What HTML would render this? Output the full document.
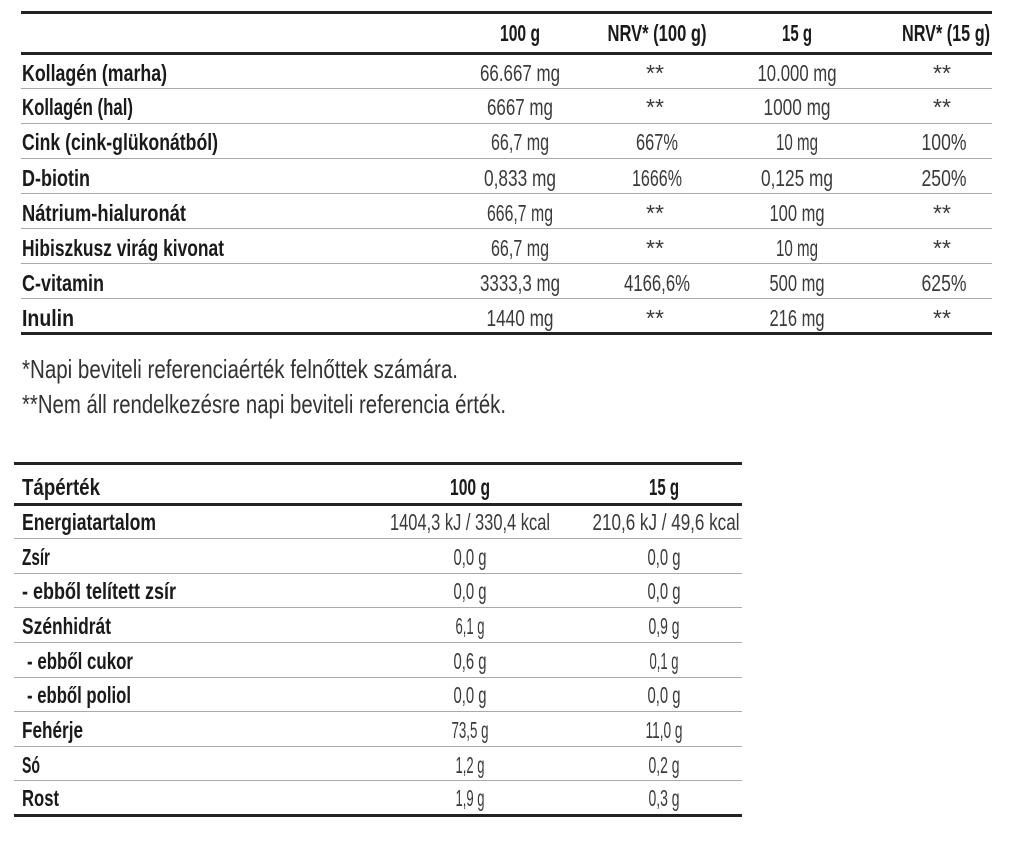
<!DOCTYPE html>
<html><head><meta charset="utf-8"><style>
html,body{margin:0;padding:0;background:#fff;width:1024px;height:844px;overflow:hidden}
svg text{font-family:"Liberation Sans Narrow","Liberation Sans",sans-serif;}
.b{font-weight:bold;fill:#1a1a1a;font-size:23px}
.l{fill:#3a3a3a;font-size:23px}
.f{fill:#333;font-size:26px}
</style></head><body>
<svg width="1024" height="844" viewBox="0 0 1024 844" xmlns="http://www.w3.org/2000/svg">
<rect x="21" y="11" width="971" height="3" fill="#222"/>
<rect x="21" y="52" width="971" height="3" fill="#222"/>
<g fill="#aaa">
<rect x="21" y="88" width="971" height="1"/>
<rect x="21" y="123" width="971" height="1"/>
<rect x="21" y="158" width="971" height="1"/>
<rect x="21" y="193" width="971" height="1"/>
<rect x="21" y="228" width="971" height="1"/>
<rect x="21" y="263" width="971" height="1"/>
<rect x="21" y="298" width="971" height="1"/>
</g>
<rect x="21" y="332" width="971" height="3" fill="#222"/>
<g class="b" text-anchor="middle">
<text x="520" y="41" textLength="40" lengthAdjust="spacingAndGlyphs">100 g</text>
<text x="657" y="41" textLength="99" lengthAdjust="spacingAndGlyphs">NRV* (100 g)</text>
<text x="797" y="41" textLength="30" lengthAdjust="spacingAndGlyphs">15 g</text>
<text x="946" y="41" textLength="88" lengthAdjust="spacingAndGlyphs">NRV* (15 g)</text>
</g>
<g class="b">
<text x="22" y="81" textLength="145" lengthAdjust="spacingAndGlyphs">Kollagén (marha)</text>
<text x="22" y="115" textLength="111" lengthAdjust="spacingAndGlyphs">Kollagén (hal)</text>
<text x="22" y="150" textLength="196" lengthAdjust="spacingAndGlyphs">Cink (cink-glükonátból)</text>
<text x="22" y="186" textLength="68" lengthAdjust="spacingAndGlyphs">D-biotin</text>
<text x="22" y="221" textLength="164" lengthAdjust="spacingAndGlyphs">Nátrium-hialuronát</text>
<text x="22" y="256" textLength="202" lengthAdjust="spacingAndGlyphs">Hibiszkusz virág kivonat</text>
<text x="22" y="291" textLength="82" lengthAdjust="spacingAndGlyphs">C-vitamin</text>
<text x="22" y="326" textLength="52" lengthAdjust="spacingAndGlyphs">Inulin</text>
</g>
<g class="l" text-anchor="middle">
<text x="520" y="81" textLength="80" lengthAdjust="spacingAndGlyphs">66.667 mg</text>
<text x="520" y="115" textLength="66" lengthAdjust="spacingAndGlyphs">6667 mg</text>
<text x="520" y="150" textLength="58" lengthAdjust="spacingAndGlyphs">66,7 mg</text>
<text x="520" y="186" textLength="72" lengthAdjust="spacingAndGlyphs">0,833 mg</text>
<text x="520" y="221" textLength="66" lengthAdjust="spacingAndGlyphs">666,7 mg</text>
<text x="520" y="256" textLength="58" lengthAdjust="spacingAndGlyphs">66,7 mg</text>
<text x="520" y="291" textLength="80" lengthAdjust="spacingAndGlyphs">3333,3 mg</text>
<text x="520" y="326" textLength="67" lengthAdjust="spacingAndGlyphs">1440 mg</text>

<text x="655" y="81">**</text>
<text x="655" y="115">**</text>
<text x="657" y="150" textLength="42" lengthAdjust="spacingAndGlyphs">667%</text>
<text x="657" y="186" textLength="50" lengthAdjust="spacingAndGlyphs">1666%</text>
<text x="655" y="221">**</text>
<text x="655" y="256">**</text>
<text x="657" y="291" textLength="66" lengthAdjust="spacingAndGlyphs">4166,6%</text>
<text x="655" y="326">**</text>

<text x="797" y="81" textLength="79" lengthAdjust="spacingAndGlyphs">10.000 mg</text>
<text x="797" y="115" textLength="67" lengthAdjust="spacingAndGlyphs">1000 mg</text>
<text x="797" y="150" textLength="42" lengthAdjust="spacingAndGlyphs">10 mg</text>
<text x="797" y="186" textLength="72" lengthAdjust="spacingAndGlyphs">0,125 mg</text>
<text x="797" y="221" textLength="55" lengthAdjust="spacingAndGlyphs">100 mg</text>
<text x="797" y="256" textLength="42" lengthAdjust="spacingAndGlyphs">10 mg</text>
<text x="797" y="291" textLength="55" lengthAdjust="spacingAndGlyphs">500 mg</text>
<text x="797" y="326" textLength="55" lengthAdjust="spacingAndGlyphs">216 mg</text>

<text x="942" y="81">**</text>
<text x="942" y="115">**</text>
<text x="944" y="150" textLength="45" lengthAdjust="spacingAndGlyphs">100%</text>
<text x="944" y="186" textLength="45" lengthAdjust="spacingAndGlyphs">250%</text>
<text x="942" y="221">**</text>
<text x="942" y="256">**</text>
<text x="944" y="291" textLength="45" lengthAdjust="spacingAndGlyphs">625%</text>
<text x="942" y="326">**</text>
</g>
<g class="f">
<text x="22" y="378" textLength="436" lengthAdjust="spacingAndGlyphs">*Napi beviteli referenciaérték felnőttek számára.</text>
<text x="22" y="413" textLength="484" lengthAdjust="spacingAndGlyphs">**Nem áll rendelkezésre napi beviteli referencia érték.</text>
</g>
<rect x="14" y="462" width="728" height="3" fill="#222"/>
<rect x="14" y="503" width="728" height="3" fill="#222"/>
<g fill="#aaa">
<rect x="14" y="538" width="728" height="1"/>
<rect x="14" y="573" width="728" height="1"/>
<rect x="14" y="607" width="728" height="1"/>
<rect x="14" y="642" width="728" height="1"/>
<rect x="14" y="677" width="728" height="1"/>
<rect x="14" y="711" width="728" height="1"/>
<rect x="14" y="746" width="728" height="1"/>
<rect x="14" y="780" width="728" height="1"/>
</g>
<rect x="14" y="814" width="728" height="3" fill="#222"/>
<g class="b">
<text x="22" y="495" textLength="78" lengthAdjust="spacingAndGlyphs">Tápérték</text>
<text x="22" y="530" textLength="134" lengthAdjust="spacingAndGlyphs">Energiatartalom</text>
<text x="22" y="565" textLength="28" lengthAdjust="spacingAndGlyphs">Zsír</text>
<text x="22" y="599" textLength="154" lengthAdjust="spacingAndGlyphs">- ebből telített zsír</text>
<text x="22" y="634" textLength="89" lengthAdjust="spacingAndGlyphs">Szénhidrát</text>
<text x="27" y="669" textLength="106" lengthAdjust="spacingAndGlyphs">- ebből cukor</text>
<text x="27" y="703" textLength="104" lengthAdjust="spacingAndGlyphs">- ebből poliol</text>
<text x="22" y="738" textLength="61" lengthAdjust="spacingAndGlyphs">Fehérje</text>
<text x="22" y="773" textLength="18" lengthAdjust="spacingAndGlyphs">Só</text>
<text x="22" y="806" textLength="37" lengthAdjust="spacingAndGlyphs">Rost</text>
</g>
<g class="b" text-anchor="middle">
<text x="470" y="495" textLength="40" lengthAdjust="spacingAndGlyphs">100 g</text>
<text x="664" y="495" textLength="30" lengthAdjust="spacingAndGlyphs">15 g</text>
</g>
<g class="l" text-anchor="middle">
<text x="470" y="530" textLength="160" lengthAdjust="spacingAndGlyphs">1404,3 kJ / 330,4 kcal</text>
<text x="666" y="530" textLength="147" lengthAdjust="spacingAndGlyphs">210,6 kJ / 49,6 kcal</text>
<text x="470" y="565" textLength="33" lengthAdjust="spacingAndGlyphs">0,0 g</text>
<text x="664" y="565" textLength="33" lengthAdjust="spacingAndGlyphs">0,0 g</text>
<text x="470" y="599" textLength="33" lengthAdjust="spacingAndGlyphs">0,0 g</text>
<text x="664" y="599" textLength="33" lengthAdjust="spacingAndGlyphs">0,0 g</text>
<text x="470" y="634" textLength="29" lengthAdjust="spacingAndGlyphs">6,1 g</text>
<text x="664" y="634" textLength="31" lengthAdjust="spacingAndGlyphs">0,9 g</text>
<text x="470" y="669" textLength="33" lengthAdjust="spacingAndGlyphs">0,6 g</text>
<text x="664" y="669" textLength="29" lengthAdjust="spacingAndGlyphs">0,1 g</text>
<text x="470" y="703" textLength="33" lengthAdjust="spacingAndGlyphs">0,0 g</text>
<text x="664" y="703" textLength="33" lengthAdjust="spacingAndGlyphs">0,0 g</text>
<text x="470" y="738" textLength="37" lengthAdjust="spacingAndGlyphs">73,5 g</text>
<text x="664" y="738" textLength="37" lengthAdjust="spacingAndGlyphs">11,0 g</text>
<text x="470" y="773" textLength="29" lengthAdjust="spacingAndGlyphs">1,2 g</text>
<text x="664" y="773" textLength="31" lengthAdjust="spacingAndGlyphs">0,2 g</text>
<text x="470" y="806" textLength="29" lengthAdjust="spacingAndGlyphs">1,9 g</text>
<text x="664" y="806" textLength="31" lengthAdjust="spacingAndGlyphs">0,3 g</text>
</g>
</svg>
</body></html>
